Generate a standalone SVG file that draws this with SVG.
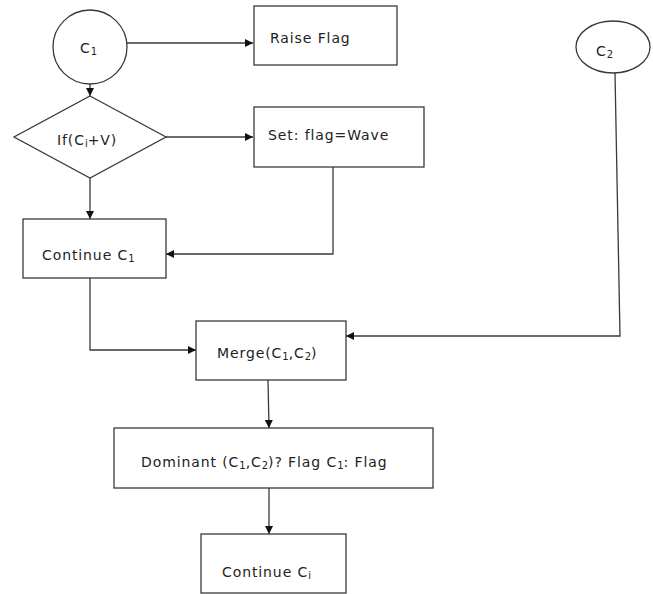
<svg xmlns="http://www.w3.org/2000/svg" width="653" height="594" viewBox="0 0 653 594">
<style>
.s{fill:#fff;stroke:#3a3a3a;stroke-width:1.3}
.c{fill:none;stroke:#3a3a3a;stroke-width:1.3}
text{font-family:"DejaVu Sans","Open Sans",sans-serif;font-size:14px;letter-spacing:0.9px;fill:#222}
.sub{font-size:10px;letter-spacing:0}
</style>
<defs>
<marker id="a" viewBox="0 0 10 10" refX="10" refY="5" markerWidth="8" markerHeight="8" markerUnits="userSpaceOnUse" orient="auto">
<path d="M0,0 L10,5 L0,10 Z" fill="#111"/>
</marker>
</defs>
<rect width="653" height="594" fill="#fff"/>
<g id="connectors">
<line class="c" x1="127" y1="43" x2="253" y2="43" marker-end="url(#a)"/>
<line class="c" x1="90" y1="84" x2="90" y2="96" marker-end="url(#a)"/>
<line class="c" x1="166" y1="137" x2="253" y2="137" marker-end="url(#a)"/>
<line class="c" x1="90" y1="178" x2="90" y2="219" marker-end="url(#a)"/>
<polyline class="c" points="333,167 333,254 166,254" marker-end="url(#a)"/>
<polyline class="c" points="90,278 90,350 196,350" marker-end="url(#a)"/>
<polyline class="c" points="615,73 620,336 346,336" marker-end="url(#a)"/>
<line class="c" x1="268" y1="380" x2="269" y2="428" marker-end="url(#a)"/>
<line class="c" x1="269" y1="488" x2="269" y2="534" marker-end="url(#a)"/>
</g>
<g id="c1"><ellipse class="s" cx="90" cy="47" rx="37" ry="37"/><text x="80" y="53">C<tspan class="sub" dy="2">1</tspan></text></g>
<g id="raise"><rect class="s" x="254" y="6" width="143" height="59"/><text x="270" y="43">Raise Flag</text></g>
<g id="c2"><ellipse class="s" cx="613" cy="47" rx="37" ry="26"/><text x="596" y="56">C<tspan class="sub" dy="2">2</tspan></text></g>
<g id="decision"><polygon class="s" points="90,96 166,137 90,178 14,137"/><text x="57" y="145">If(C<tspan class="sub" dy="2">i</tspan><tspan dy="-2">+V)</tspan></text></g>
<g id="set"><rect class="s" x="254" y="107" width="170" height="60"/><text x="268" y="140">Set: flag=Wave</text></g>
<g id="cont1"><rect class="s" x="23" y="219" width="143" height="59"/><text x="42" y="260">Continue C<tspan class="sub" dy="2">1</tspan></text></g>
<g id="merge"><rect class="s" x="196" y="321" width="150" height="59"/><text x="217" y="358">Merge(C<tspan class="sub" dy="2">1</tspan><tspan dy="-2">,C</tspan><tspan class="sub" dy="2">2</tspan><tspan dy="-2">)</tspan></text></g>
<g id="dominant"><rect class="s" x="114" y="428" width="319" height="60"/><text x="141" y="467">Dominant (C<tspan class="sub" dy="2">1</tspan><tspan dy="-2">,C</tspan><tspan class="sub" dy="2">2</tspan><tspan dy="-2">)? Flag C</tspan><tspan class="sub" dy="2">1</tspan><tspan dy="-2">: Flag</tspan></text></g>
<g id="cont2"><rect class="s" x="201" y="534" width="145" height="59"/><text x="222" y="577">Continue  C<tspan class="sub" dy="2">i</tspan></text></g>
</svg>
